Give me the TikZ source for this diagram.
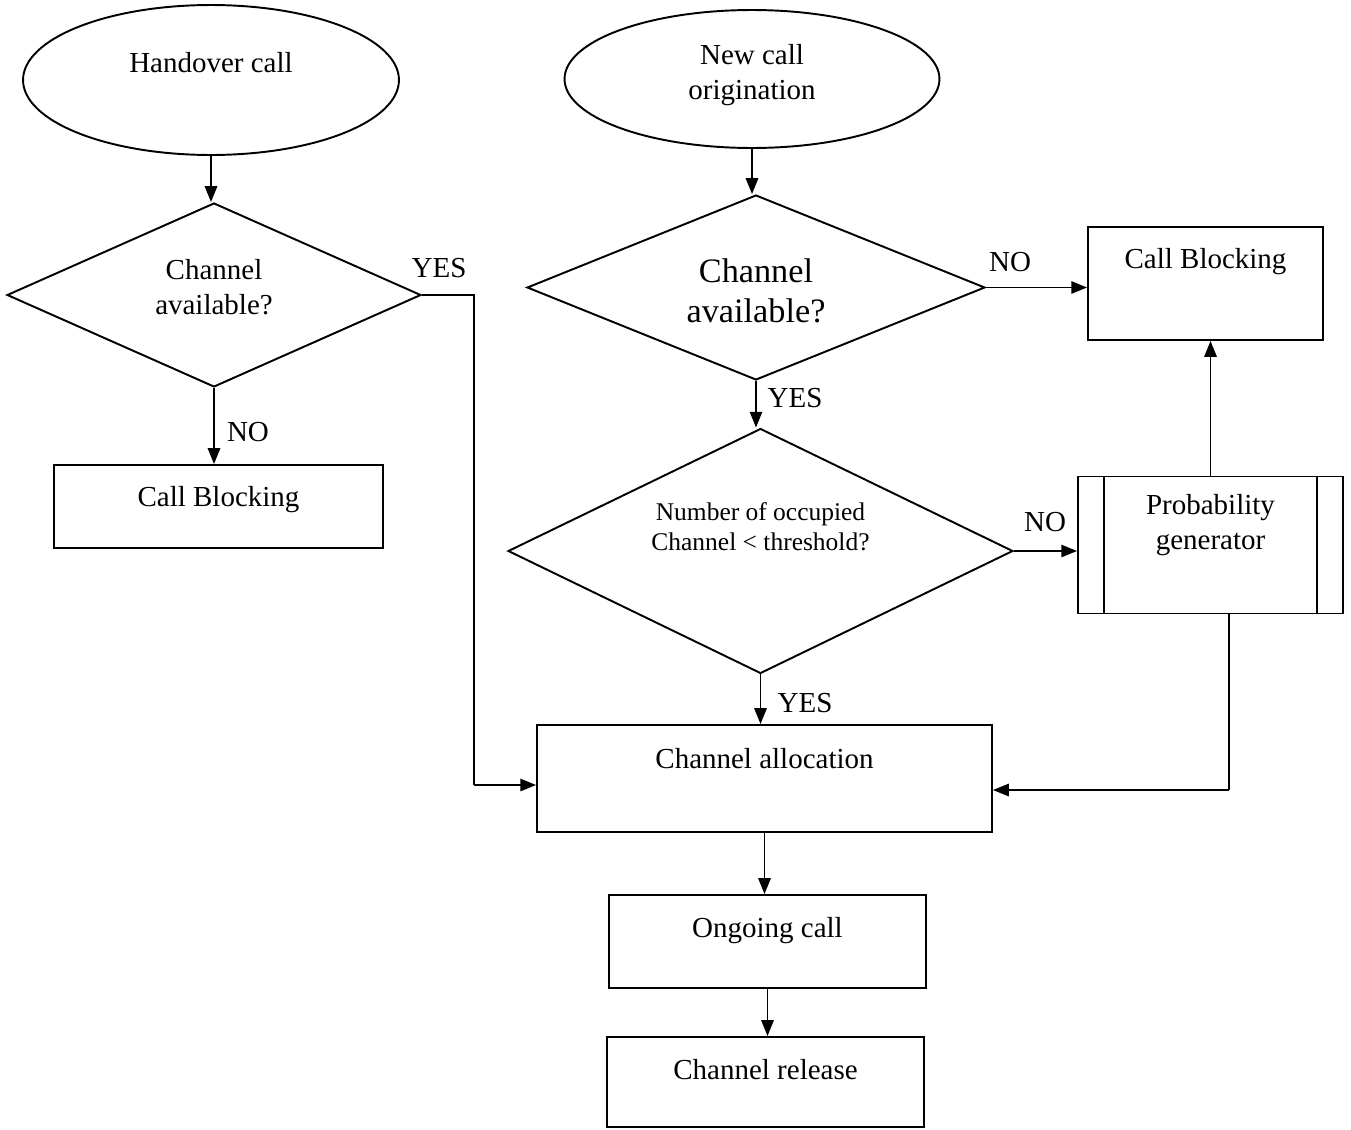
\documentclass[tikz,border=0pt]{standalone}
\usepackage{fontspec}
\setmainfont{Liberation Serif}
\usetikzlibrary{shapes.geometric,arrows.meta,calc}
\begin{document}
\begin{tikzpicture}[x=0.02cm,y=-0.02cm,
  every node/.style={font=\fontsize{16.5}{20}\selectfont},
  line/.style={line width=1.1pt},
  arr/.style={line width=1.1pt,-{Triangle[length=9pt,width=7pt]}},
  shp/.style={draw,line width=1.1pt,inner sep=0pt,text height=12pt},
  oval/.style={shp,ellipse},
  dec/.style={shp,diamond,align=center},
  box/.style={shp,rectangle},
  lab/.style={inner sep=0pt}]
\useasboundingbox (0,0) rectangle (1351,1129);
% left branch
\node[oval,minimum width=7.52cm,minimum height=3.0cm,text depth=20pt] (ho) at (211,80) {Handover call};
\node[dec,shape aspect=2.2,minimum width=8.28cm,minimum height=3.68cm,text height=22.6pt,text depth=0pt] (d1) at (214,295) {Channel\\available?};
\node[box,minimum width=6.58cm,minimum height=1.66cm,text depth=12pt] (cb1) at (218.5,506.5) {Call Blocking};
% right branch
\node[oval,minimum width=7.5cm,minimum height=2.76cm,align=center,text height=23.7pt,text depth=0pt] (nc) at (752,79) {New call\\origination};
\node[dec,shape aspect=2.5,minimum width=9.16cm,minimum height=3.7cm,text height=39.3pt,text depth=0pt,font=\fontsize{19.5}{22.5}\selectfont] (d2) at (756,287.5) {Channel\\available?};
\node[dec,shape aspect=2,minimum width=10.1cm,minimum height=4.9cm,text height=12pt,text depth=12.2pt,font=\fontsize{14.5}{17.5}\selectfont] (d3) at (760.5,551) {Number of occupied\\Channel {\textless} threshold?};
\node[box,minimum width=4.7cm,minimum height=2.26cm,text depth=29.6pt] (cb2) at (1205.5,283.5) {Call Blocking};
\node[box,minimum width=5.3cm,minimum height=2.74cm,align=center,text height=12pt,text depth=6.4pt] (pg) at (1210.5,545) {Probability\\generator};
\draw[line] ($(pg.north west)+(0.54cm,0)$) -- ($(pg.south west)+(0.54cm,0)$);
\draw[line] ($(pg.north east)-(0.54cm,0)$) -- ($(pg.south east)-(0.54cm,0)$);
\node[box,minimum width=9.1cm,minimum height=2.14cm,text depth=23.9pt] (ca) at (764.5,778.5) {Channel allocation};
\node[box,minimum width=6.34cm,minimum height=1.86cm,text depth=17.1pt] (og) at (767.5,941.5) {Ongoing call};
\node[box,minimum width=6.34cm,minimum height=1.8cm,text depth=15.4pt] (cr) at (765.5,1082) {Channel release};
% connectors
\coordinate (j1) at (474,295);
\coordinate (j1b) at (478,785);
\coordinate (j2) at (1229,790);
\draw[arr] (ho.south) -- (ho.south |- d1.north);
\draw[line] (d1.east) -- (j1) -- (j1 |- j1b);
\draw[arr] (j1 |- j1b) -- (j1b -| ca.west);
\draw[arr] (d1.south) -- (d1.south |- cb1.north);
\draw[arr] (nc.south) -- (nc.south |- d2.north);
\draw[arr] (d2.east) -- (d2.east -| cb2.west);
\draw[arr] (d2.south) -- (d2.south |- d3.north);
\draw[arr] (d3.east) -- (d3.east -| pg.west);
\draw[arr] (pg.north) -- (pg.north |- cb2.south);
\draw[line] (j2 |- pg.south) -- (j2);
\draw[arr] (j2) -- (j2 -| ca.east);
\draw[arr] (d3.south) -- (d3.south |- ca.north);
\draw[arr] (ca.south) -- (ca.south |- og.north);
\draw[arr] (og.south) -- (og.south |- cr.north);
% labels
\node[lab] (l1) at (439,268) {YES};
\node[lab] (l2) at (248,432) {NO};
\node[lab] (l3) at (1010,262) {NO};
\node[lab] (l4) at (795,398) {YES};
\node[lab] (l5) at (1045,522) {NO};
\node[lab] (l6) at (805,703) {YES};
\end{tikzpicture}
\end{document}
